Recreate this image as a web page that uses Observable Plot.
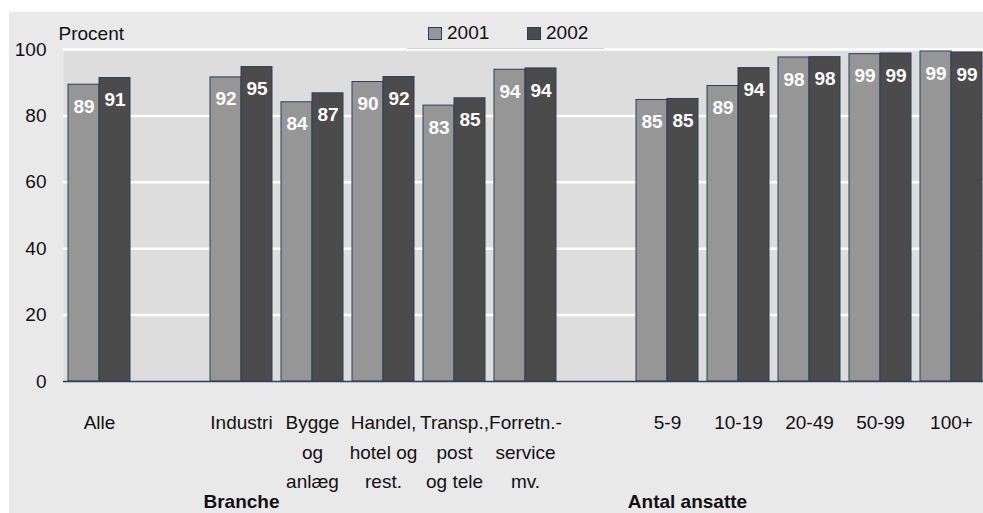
<!DOCTYPE html>
<html>
<head>
<meta charset="utf-8">
<script src="https://cdn.jsdelivr.net/npm/d3@7"></script>
<script src="https://cdn.jsdelivr.net/npm/@observablehq/plot@0.6"></script>
<style>
  html, body { margin: 0; padding: 0; background: #ffffff; }
  #wrap { position: relative; width: 983px; height: 513px; overflow: hidden; font-family: "Liberation Sans", Arial, sans-serif; }
  #outer { position: absolute; left: 9px; top: 12px; right: 0; bottom: 0; background: #e9e9e9; }
  #chart { position: absolute; left: 0; top: 0; }
  #legend { position: absolute; left: 407px; top: 12px; width: 197px; height: 36px; background: #e9e9e9; border-bottom: 1px solid #d6d6d6; font-size: 19px; color: #111; }
  .item { position: absolute; top: 11px; display: flex; align-items: center; line-height: 20px; }
  .sw { width: 14px; height: 13px; border: 1px solid #2f3d5c; box-sizing: border-box; margin-right: 5px; }
</style>
</head>
<body>
<div id="wrap">
  <div id="outer"></div>
  <div id="chart"></div>
  <div id="legend"></div>
</div>
<script>
// Slots along the x axis (blank slots separate the groups)
const slots = ["Alle", "gap1", "Industri", "Bygge og anlæg", "Handel, hotel og rest.", "Transp., post og tele", "Forretn.-service mv.", "gap2", "5-9", "10-19", "20-49", "50-99", "100+"];
const categories = ["Alle", "Industri", "Bygge og anlæg", "Handel, hotel og rest.", "Transp., post og tele", "Forretn.-service mv.", "5-9", "10-19", "20-49", "50-99", "100+"];
const tickLabels = ["Alle", "Industri", "Bygge\nog\nanlæg", "Handel,\nhotel og\nrest.", "Transp.,\npost\nog tele", "Forretn.-\nservice\nmv.", "5-9", "10-19", "20-49", "50-99", "100+"];
const values2001 = [89.4, 91.6, 84.1, 90.2, 83.1, 93.9, 84.8, 89.0, 97.6, 98.6, 99.4];
const values2002 = [91.4, 94.7, 86.8, 91.7, 85.3, 94.3, 85.1, 94.4, 97.7, 98.8, 99.1];
const years = ["2001", "2002"];
const yTicks = [0, 20, 40, 60, 80, 100];
const groupLabels = ["Branche", "Antal ansatte"];
const groupAnchors = ["Industri", "5-9"];

const colors = {"2001": "#969696", "2002": "#4b4b4b"};
const barStroke = "#2f3d5c";

const d2001 = categories.map((c, i) => ({category: c, year: "2001", value: values2001[i]}));
const d2002 = categories.map((c, i) => ({category: c, year: "2002", value: values2002[i]}));
const labelMap = new Map(categories.map((c, i) => [c, tickLabels[i]]));

const font = '"Liberation Sans", Arial, sans-serif';
const fs = 19;

const chart = Plot.plot({
  width: 983,
  height: 513,
  marginTop: 49,
  marginBottom: 132,
  marginLeft: 63,
  marginRight: 0,
  style: {fontSize: fs + "px", fontFamily: font, background: "transparent", color: "#111"},
  x: {type: "band", domain: slots, range: [63, 983], paddingInner: 0.127, paddingOuter: 0.042, align: 0.83},
  y: {domain: [0, 100]},
  marks: [
    Plot.frame({fill: "#dddddd", stroke: null}),
    Plot.ruleY(yTicks.filter(d => d > 0), {stroke: "#ffffff", strokeWidth: 2.5}),
    Plot.axisY(yTicks, {tickSize: 0, tickPadding: 17, label: null, fontSize: fs}),
    Plot.axisX({tickSize: 0, tickPadding: 27, label: null, fontSize: fs, lineHeight: 1.55,
      tickFormat: d => labelMap.has(d) ? labelMap.get(d) : ""}),
    Plot.text(["Procent"], {frameAnchor: "top-left", dx: -5, dy: -10, textAnchor: "start", lineAnchor: "bottom", fontSize: fs}),
    Plot.barY(d2001, {x: "category", y: "value", fill: colors["2001"], stroke: barStroke, strokeWidth: 1, insetRight: 31}),
    Plot.barY(d2002, {x: "category", y: "value", fill: colors["2002"], stroke: barStroke, strokeWidth: 1, insetLeft: 31}),
    Plot.ruleY([0], {stroke: "#34405a", strokeWidth: 1.5}),
    Plot.text(d2001, {x: "category", y: "value", text: d => String(Math.round(d.value)), dx: -15.5, dy: 22, fill: "#ffffff", fontWeight: "bold", fontSize: fs}),
    Plot.text(d2002, {x: "category", y: "value", text: d => String(Math.round(d.value)), dx: 15.5, dy: 22, fill: "#ffffff", fontWeight: "bold", fontSize: fs}),
    Plot.text([groupLabels[0]], {x: () => groupAnchors[0], frameAnchor: "bottom", dy: 126, lineAnchor: "bottom", fontWeight: "bold", fontSize: fs}),
    Plot.text([groupLabels[1]], {x: () => groupAnchors[1], frameAnchor: "bottom", dx: 20, dy: 126, lineAnchor: "bottom", fontWeight: "bold", fontSize: fs})
  ]
});
document.getElementById("chart").appendChild(chart);

// Legend
const legend = document.getElementById("legend");
const legendLeft = [21, 120];
years.forEach((y, i) => {
  const item = document.createElement("div");
  item.className = "item";
  item.style.left = legendLeft[i] + "px";
  const sw = document.createElement("div");
  sw.className = "sw";
  sw.style.background = colors[y];
  const t = document.createElement("span");
  t.textContent = y;
  item.appendChild(sw);
  item.appendChild(t);
  legend.appendChild(item);
});
</script>
</body>
</html>
